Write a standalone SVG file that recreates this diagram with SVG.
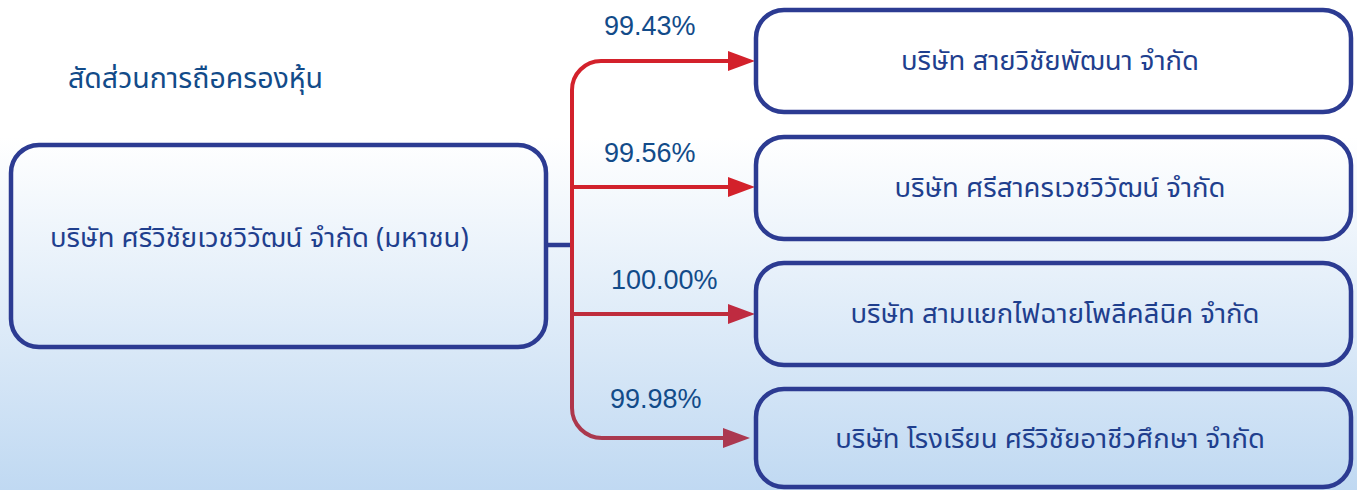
<svg xmlns="http://www.w3.org/2000/svg" width="1357" height="490" viewBox="0 0 1357 490">
<defs>
<linearGradient id="bg" x1="0" y1="0" x2="0" y2="490" gradientUnits="userSpaceOnUse">
<stop offset="0" stop-color="#ffffff"/>
<stop offset="0.28" stop-color="#ffffff"/>
<stop offset="1" stop-color="#c0d9f2"/>
</linearGradient>
<linearGradient id="red" x1="0" y1="60" x2="0" y2="440" gradientUnits="userSpaceOnUse">
<stop offset="0" stop-color="#d3212b"/>
<stop offset="0.4" stop-color="#d1222d"/>
<stop offset="1" stop-color="#a9394f"/>
</linearGradient>
<marker id="a1" markerUnits="userSpaceOnUse" markerWidth="28" markerHeight="22" refX="0" refY="11" orient="auto"><path d="M0,1 L27,11 L0,21 Z" fill="#d3212b"/></marker>
<marker id="a3" markerUnits="userSpaceOnUse" markerWidth="28" markerHeight="22" refX="0" refY="11" orient="auto"><path d="M0,1 L27,11 L0,21 Z" fill="#bf2b40"/></marker>
<marker id="a4" markerUnits="userSpaceOnUse" markerWidth="28" markerHeight="22" refX="0" refY="11" orient="auto"><path d="M0,1 L27,11 L0,21 Z" fill="#ab3850"/></marker>
</defs>
<style>
.box{fill:none;stroke:#2c3b92;stroke-width:4.5}
.nt{font-family:"Noto Sans","Noto Sans Thai","Liberation Sans",sans-serif;font-size:27.5px;fill:#1f3f8e}
.pct{font-family:"Liberation Sans",Arial,sans-serif;font-size:27px;fill:#124b89}
.title{font-family:"Noto Sans","Noto Sans Thai","Liberation Sans",sans-serif;font-size:28.5px;fill:#124b89}
.ln{fill:none;stroke:url(#red);stroke-width:4}
</style>
<rect width="1357" height="490" fill="url(#bg)"/>
<text class="title" x="68" y="88">สัดส่วนการถือครองหุ้น</text>
<g id="connectors">
<path d="M546,245 H572" fill="none" stroke="#2c3b92" stroke-width="4.5"/>
<path class="ln" d="M572,245 V90 A29,29 0 0 1 601,61 H728" marker-end="url(#a1)"/>
<path class="ln" d="M572,187 H728" marker-end="url(#a1)"/>
<path class="ln" d="M572,314 H728" marker-end="url(#a3)"/>
<path class="ln" d="M572,245 V408 A30,30 0 0 0 602,438 H723" marker-end="url(#a4)"/>
<text class="pct" x="604" y="35">99.43%</text>
<text class="pct" x="604" y="162">99.56%</text>
<text class="pct" x="611" y="289">100.00%</text>
<text class="pct" x="610" y="408">99.98%</text>
</g>
<g id="parent">
<rect class="box" x="11" y="145" width="535" height="202" rx="28"/>
<text class="nt" x="50" y="247">บริษัท ศรีวิชัยเวชวิวัฒน์ จำกัด (มหาชน)</text>
</g>
<g id="sub1">
<rect class="box" x="756" y="10" width="595" height="102" rx="28"/>
<text class="nt" x="1050" y="70" text-anchor="middle">บริษัท สายวิชัยพัฒนา จำกัด</text>
</g>
<g id="sub2">
<rect class="box" x="756" y="137" width="595" height="102" rx="28"/>
<text class="nt" x="1060" y="197" text-anchor="middle">บริษัท ศรีสาครเวชวิวัฒน์ จำกัด</text>
</g>
<g id="sub3">
<rect class="box" x="756" y="263" width="595" height="102" rx="28"/>
<text class="nt" x="1055" y="323" text-anchor="middle">บริษัท สามแยกไฟฉายโพลีคลีนิค จำกัด</text>
</g>
<g id="sub4">
<rect class="box" x="756" y="389" width="595" height="98" rx="28"/>
<text class="nt" x="1050" y="448" text-anchor="middle">บริษัท โรงเรียน ศรีวิชัยอาชีวศึกษา จำกัด</text>
</g>
</svg>
